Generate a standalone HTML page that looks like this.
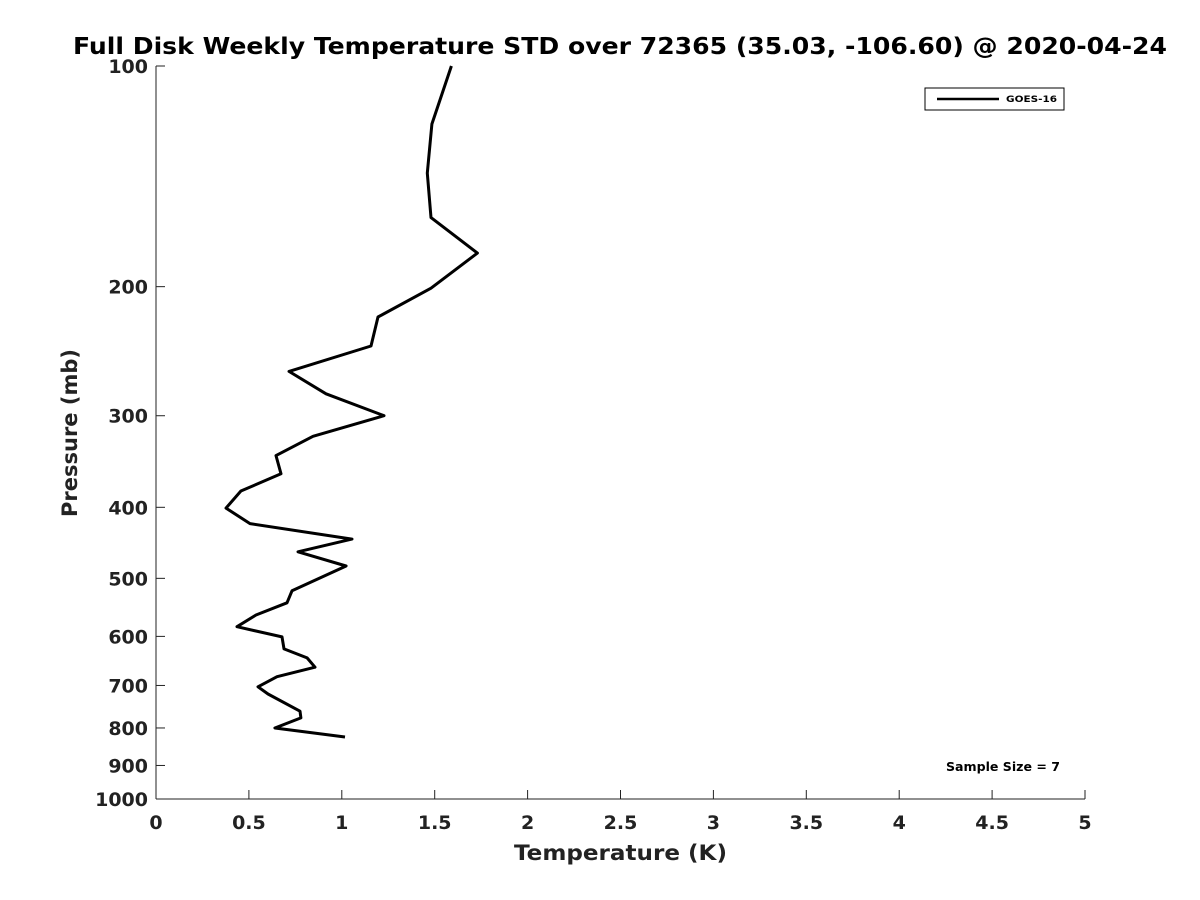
<!DOCTYPE html>
<html><head><meta charset="utf-8"><style>
body{margin:0;background:#fff;}
svg{display:block;font-family:"DejaVu Sans","Liberation Sans",sans-serif;}
</style></head><body>
<svg id="chart" width="1200" height="900" viewBox="0 0 1200 900">
<rect width="1200" height="900" fill="#fff"/>
<text x="73" y="54" font-size="23" font-weight="bold" fill="#000" textLength="1094" lengthAdjust="spacingAndGlyphs">Full Disk Weekly Temperature STD over 72365 (35.03, -106.60) @ 2020-04-24</text>
<g id="axes"></g>
<g id="series"></g>
<g>
<rect x="925" y="88" width="139" height="22" fill="#fff" stroke="#000" stroke-width="1"/>
<line x1="937" y1="99" x2="999" y2="99" stroke="#000" stroke-width="2.5"/>
<text x="1006" y="102" font-size="9" font-weight="bold" textLength="51" lengthAdjust="spacingAndGlyphs">GOES-16</text>
</g>
<text x="946" y="771" font-size="12" font-weight="bold" textLength="114" lengthAdjust="spacingAndGlyphs">Sample Size = 7</text>
<text x="514" y="860" font-size="21" font-weight="bold" fill="#222" textLength="213" lengthAdjust="spacingAndGlyphs">Temperature (K)</text>
<text transform="translate(77,433) rotate(-90)" text-anchor="middle" font-size="21" font-weight="bold" fill="#222">Pressure (mb)</text>
</svg>
<script>
const xTicks=[0,0.5,1,1.5,2,2.5,3,3.5,4,4.5,5];
const yTicks=[100,200,300,400,500,600,700,800,900,1000];
const pressures=[100,120,140,161,180,201,220,241,261,280,300,320,340,360,380,401,421,442,460,481,520,540,561,582,601,624,642,661,681,703,719,759,775,800,823];
const stdValues=[1.59,1.485,1.46,1.48,1.73,1.48,1.195,1.157,0.716,0.915,1.227,0.845,0.646,0.673,0.457,0.377,0.506,1.055,0.764,1.023,0.732,0.705,0.538,0.436,0.678,0.689,0.813,0.856,0.651,0.549,0.603,0.775,0.780,0.64,1.017];
const X0=156,X1=1085,Y0=66,Y1=799;
const xs=v=>X0+(v-0)/(5-0)*(X1-X0);
const ys=p=>Y0+(Math.log10(p)-2)*(Y1-Y0);
const NS="http://www.w3.org/2000/svg";
const axes=document.getElementById('axes');
function mk(t,a,parent){const e=document.createElementNS(NS,t);for(const k in a)e.setAttribute(k,a[k]);parent.appendChild(e);return e;}
const xa=mk('line',{x1:X0,y1:Y1,x2:X1,y2:Y1,stroke:'#222','stroke-width':1},axes);


const ya=mk('line',{x1:X0,y1:Y0,x2:X0,y2:Y1,stroke:'#222','stroke-width':1},axes);


xTicks.forEach(v=>{
  const x=xs(v);
  mk('line',{x1:x,y1:Y1,x2:x,y2:Y1-9,stroke:'#222'},axes);
  const t=mk('text',{x:x,y:829,'text-anchor':'middle','font-size':19,'font-weight':'bold',fill:'#222'},axes);
  t.textContent=String(v);
  
  
});
yTicks.forEach(p=>{
  const y=ys(p);
  mk('line',{x1:X0,y1:y,x2:X0+9,y2:y,stroke:'#222'},axes);
  const t=mk('text',{x:148,y:y+7,'text-anchor':'end','font-size':19,'font-weight':'bold',fill:'#222'},axes);
  t.textContent=String(p);
  
  
});
const pts=pressures.map((p,i)=>xs(stdValues[i]).toFixed(1)+','+ys(p).toFixed(1)).join(' ');
const line=mk('polyline',{points:pts,fill:'none',stroke:'#000','stroke-width':3,'stroke-linejoin':'round'},document.getElementById('series'));


</script>
</body></html>
